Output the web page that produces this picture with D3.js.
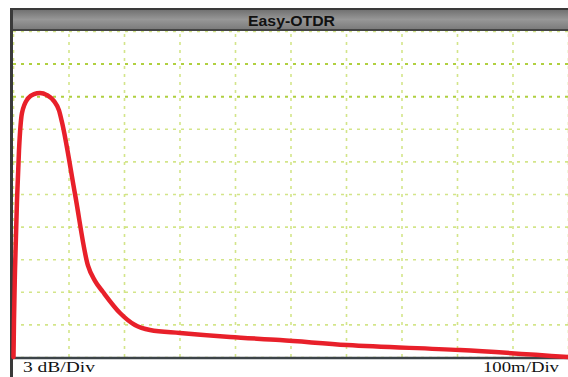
<!DOCTYPE html>
<html><head><meta charset="utf-8">
<script src="https://cdn.jsdelivr.net/npm/d3@7"></script>
<style>
html,body{margin:0;padding:0;background:#fff;}
svg{display:block;}
</style></head>
<body>
<svg id="c" width="568" height="377"></svg>
<script>
// Distance in metres (100 m/Div), level in dB (3 dB/Div)
const distance = [0.9, 1.8, 3.6, 7.2, 10.8, 16.2, 27, 37.8, 48.6, 61.3, 73.9, 82.9, 88.3, 111.7, 135.1, 147.7, 162.2, 192.8, 219.8, 246.8, 300.9, 391, 481, 601.8, 805.4, 1000];
const levelDb  = [0, 3.4, 8.0, 14.4, 19.0, 22.45, 23.8, 24.2, 24.3, 24.1, 23.55, 22.7, 21.6, 15.0, 8.4, 7.0, 5.98, 4.05, 2.94, 2.48, 2.21, 1.84, 1.56, 1.1, 0.64, 0];
const xTicks = [0,100,200,300,400,500,600,700,800,900,1000];
const yTicks = [0,3,6,9,12,15,18,21,24,27,30];
const title = "Easy-OTDR";
const yUnitLabel = "3 dB/Div";
const xUnitLabel = "100m/Div";

const svg = d3.select("#c");
const L = 13, R = 568, T = 31, B = 357;
const x = d3.scaleLinear().domain([0,1000]).range([L,R]);
const y = d3.scaleLinear().domain([0,30]).range([B,T]);

svg.append("rect").attr("x",L).attr("y",T).attr("width",R-L).attr("height",B-T).attr("fill","#fff");

// grid via axes
const gx = svg.append("g").attr("transform",`translate(0,${B})`)
  .call(d3.axisBottom(x).tickValues(xTicks).tickSize(-(B-T)).tickFormat(""));
const gy = svg.append("g").attr("transform",`translate(${L},0)`)
  .call(d3.axisLeft(y).tickValues(yTicks).tickSize(-(R-L)).tickFormat(""));
[gx,gy].forEach(g=>{
  g.select(".domain").remove();
  g.selectAll(".tick line").attr("stroke","#c4dc62").attr("stroke-width",1.6)
   .attr("stroke-dasharray","3,5").attr("opacity",0.75);
});
gy.selectAll(".tick line").filter(d=>d===27||d===24)
  .attr("stroke","#b0d040").attr("opacity",1).attr("stroke-width",2);

// title bar
const grad = svg.append("defs").append("linearGradient").attr("id","tb").attr("x1",0).attr("x2",0).attr("y1",0).attr("y2",1);
grad.append("stop").attr("offset","0%").attr("stop-color","#6a6a6a");
grad.append("stop").attr("offset","50%").attr("stop-color","#979797");
grad.append("stop").attr("offset","100%").attr("stop-color","#767676");
svg.append("rect").attr("x",10).attr("y",8).attr("width",R-10).attr("height",T-8).attr("fill","url(#tb)");
svg.append("line").attr("x1",10).attr("x2",R).attr("y1",9).attr("y2",9).attr("stroke","#3a3a3a").attr("stroke-width",2);
svg.append("line").attr("x1",10).attr("x2",R).attr("y1",T-1).attr("y2",T-1).attr("stroke","#444").attr("stroke-width",2);
svg.append("text").attr("x",248).attr("y",26).attr("textLength",87).attr("lengthAdjust","spacingAndGlyphs")
  .attr("font-family","Liberation Sans, Arial, sans-serif").attr("font-size",15).attr("font-weight","bold")
  .attr("fill","#111").text(title);

// bottom border & left border
svg.append("line").attr("x1",10).attr("x2",R).attr("y1",B+1).attr("y2",B+1).attr("stroke","#3c4448").attr("stroke-width",2.5);
svg.append("line").attr("x1",11.5).attr("x2",11.5).attr("y1",8).attr("y2",377).attr("stroke","#3a3a3a").attr("stroke-width",3);

// trace
const line = d3.line().x((d,i)=>x(distance[i])).y(d=>y(d)).curve(d3.curveMonotoneX);
svg.append("path").datum(levelDb).attr("d",line).attr("fill","none")
  .attr("stroke","#e8202a").attr("stroke-width",4.5).attr("stroke-linejoin","round").attr("stroke-linecap","round");

// unit labels
svg.append("text").attr("x",23).attr("y",372).attr("textLength",72).attr("lengthAdjust","spacingAndGlyphs")
  .attr("font-family","Liberation Serif, Times New Roman, serif")
  .attr("font-size",15).attr("fill","#111").text(yUnitLabel);
svg.append("text").attr("x",483).attr("y",372).attr("textLength",76).attr("lengthAdjust","spacingAndGlyphs")
  .attr("font-family","Liberation Serif, Times New Roman, serif")
  .attr("font-size",15).attr("fill","#111").text(xUnitLabel);
</script>
</body></html>
